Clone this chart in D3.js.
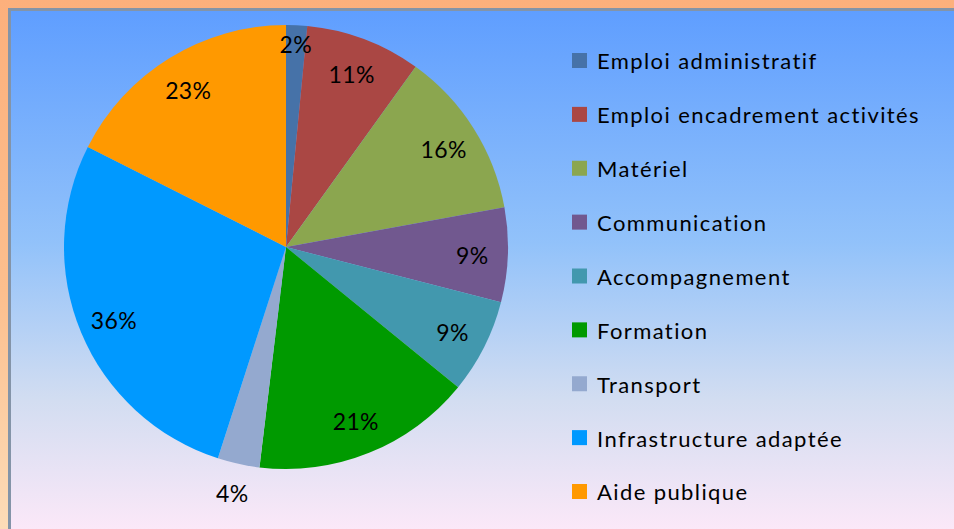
<!DOCTYPE html>
<html>
<head>
<meta charset="utf-8">
<script src="https://cdn.jsdelivr.net/npm/d3@7"></script>
<style>
  html, body { margin: 0; padding: 0; background: #fdb27e; }
  svg { display: block; }
</style>
</head>
<body>
<div id="chart"></div>
<script>
const categories = ['Emploi administratif', 'Emploi encadrement activités', 'Matériel', 'Communication',
  'Accompagnement', 'Formation', 'Transport', 'Infrastructure adaptée', 'Aide publique'];
const values = [2, 11, 16, 9, 9, 21, 4, 36, 23];
const colors = ['#4672a8', '#aa4744', '#8ba64f', '#71588f', '#4298ae', '#009a00', '#94a9cf', '#0099ff', '#ff9900'];

const width = 954;
const height = 529;
const cx = 286, cy = 247, radius = 222;

const svg = d3.select('#chart')
  .append('svg')
  .attr('width', width)
  .attr('height', height);

const defs = svg.append('defs');

const outerGrad = defs.append('linearGradient')
  .attr('id', 'outerGrad')
  .attr('x1', 0).attr('y1', 0).attr('x2', 0).attr('y2', 1);
outerGrad.append('stop').attr('offset', '0%').attr('stop-color', '#fdb07c');
outerGrad.append('stop').attr('offset', '55%').attr('stop-color', '#fdbf8e');
outerGrad.append('stop').attr('offset', '100%').attr('stop-color', '#fddcb8');

const panelGrad = defs.append('linearGradient')
  .attr('id', 'panelGrad')
  .attr('gradientUnits', 'userSpaceOnUse')
  .attr('x1', 0).attr('y1', 10).attr('x2', 0).attr('y2', height);
panelGrad.append('stop').attr('offset', '0%').attr('stop-color', '#5f9eff');
panelGrad.append('stop').attr('offset', '45%').attr('stop-color', '#92c2fa');
panelGrad.append('stop').attr('offset', '75%').attr('stop-color', '#d2ddf1');
panelGrad.append('stop').attr('offset', '100%').attr('stop-color', '#fbe8f8');

svg.append('rect')
  .attr('width', width)
  .attr('height', height)
  .attr('fill', 'url(#outerGrad)');

svg.append('rect')
  .attr('x', 9.5)
  .attr('y', 9.5)
  .attr('width', width + 40)
  .attr('height', height + 40)
  .attr('fill', 'url(#panelGrad)')
  .attr('stroke', '#8494a8')
  .attr('stroke-width', 3);

const pie = d3.pie().sort(null).value(d => d);
const arcs = pie(values);

const arc = d3.arc().innerRadius(0).outerRadius(radius);

const g = svg.append('g')
  .attr('transform', `translate(${cx},${cy})`);

g.selectAll('path')
  .data(arcs)
  .enter()
  .append('path')
  .attr('d', arc)
  .attr('fill', (d, i) => colors[i]);

// small slices get their label pushed out, like Excel's best fit
const labelRadius = d => {
  const share = d.value / d3.sum(values);
  if (share < 0.02) return radius * 0.92;
  if (share < 0.035) return radius * 1.13;
  return radius * 0.84;
};

g.selectAll('text.pct')
  .data(arcs)
  .enter()
  .append('text')
  .attr('class', 'pct')
  .attr('x', d => Math.sin((d.startAngle + d.endAngle) / 2) * labelRadius(d))
  .attr('y', d => -Math.cos((d.startAngle + d.endAngle) / 2) * labelRadius(d))
  .attr('dy', '0.45em')
  .attr('text-anchor', 'middle')
  .attr('font-family', 'Lato, sans-serif')
  .attr('font-size', 23)
  .attr('letter-spacing', 0.4)
  .attr('fill', '#000')
  .text(d => d.value + '%');

const legendY = d3.scalePoint()
  .domain(categories)
  .range([61, 492]);

const legend = svg.append('g')
  .selectAll('g')
  .data(categories)
  .enter()
  .append('g')
  .attr('transform', d => `translate(572,${legendY(d)})`);

legend.append('rect')
  .attr('x', 0)
  .attr('y', -8)
  .attr('width', 15)
  .attr('height', 15)
  .attr('fill', (d, i) => colors[i]);

legend.append('text')
  .attr('x', 25)
  .attr('dy', '0.38em')
  .attr('font-family', 'Lato, sans-serif')
  .attr('font-size', 22)
  .attr('letter-spacing', 1.4)
  .attr('fill', '#000')
  .text(d => d);
</script>
</body>
</html>
